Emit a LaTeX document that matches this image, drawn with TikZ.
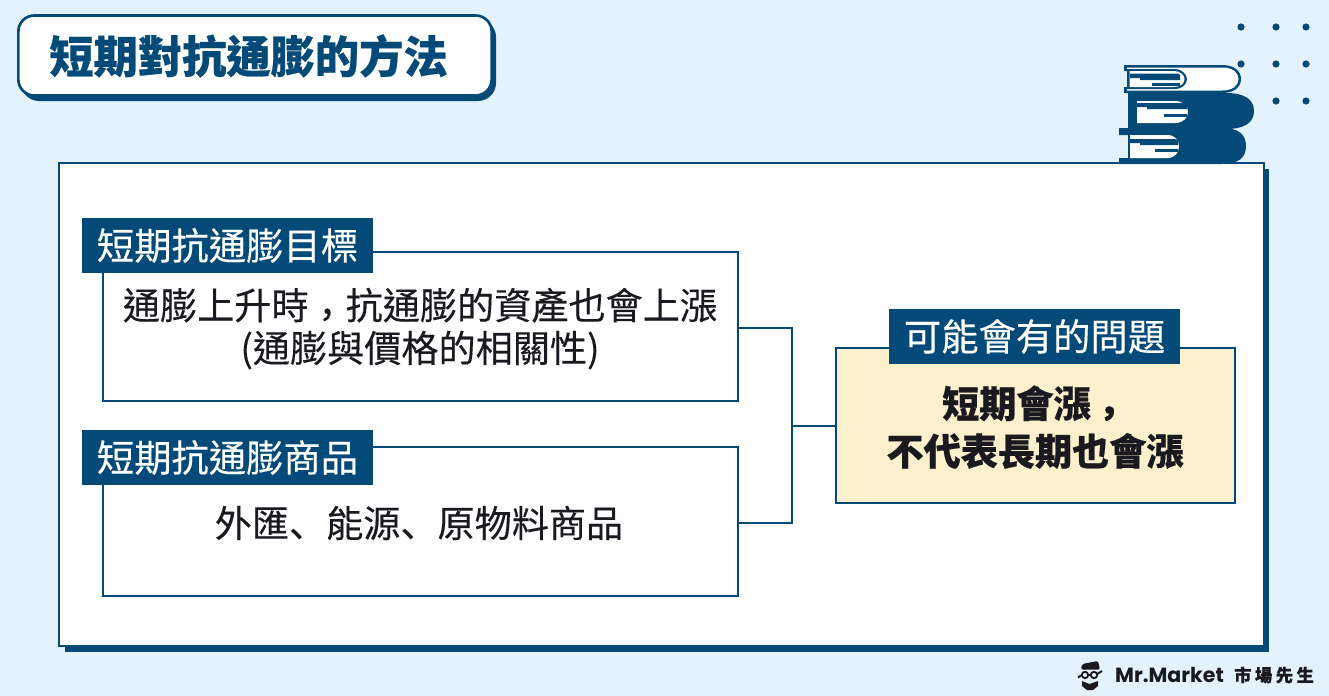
\documentclass[tikz,border=0pt]{standalone}
\usepackage{fontspec}
\setmainfont[BoldFeatures={FakeBold=0.5}]{Noto Sans CJK TC}
\newfontfamily\midfont[FakeBold=0.25]{Noto Sans CJK TC}
\newfontfamily\scfont[FakeBold=0.25]{Noto Sans CJK SC}
\newfontfamily\logofont{Poppins}
\newcommand{\lowcomma}{\raisebox{-0.24em}{，}}
\newcommand{\lowdun}{{\scfont 、}}
\definecolor{wwzzff}{rgb}{0.89,0.949,0.992}
\definecolor{qqwwbb}{rgb}{0.016,0.29,0.475}
\definecolor{ffeecc}{rgb}{0.992,0.941,0.804}
\definecolor{ttttzz}{rgb}{0.1,0.1,0.12}
\tikzset{
	panelbox/.style={draw=qqwwbb,fill=white,line width=1.5pt,inner sep=0pt},
	itembox/.style={panelbox,line width=1.2pt,minimum width=476pt,minimum height=111.5pt},
	tagbox/.style={fill=qqwwbb,text=white,inner sep=0pt,minimum width=218.25pt,minimum height=41.25pt,font=\fontsize{28}{32}\midfont},
	itemtext/.style={text=ttttzz,inner sep=0pt,font=\fontsize{27.85}{31}\midfont},
	strongtext/.style={text=ttttzz,inner sep=0pt,font=\fontsize{27.85}{31}\selectfont\bfseries},
	joinline/.style={draw=qqwwbb,line width=1.2pt},
	bookdark/.style={fill=qqwwbb,draw=none},
	bookpage/.style={fill=white,draw=none}
}
\begin{document}
\begin{tikzpicture}[line cap=butt,line join=miter,x=0.75pt,y=-0.75pt]
	\fill[wwzzff] (0,0) rectangle (1329,696);
	\useasboundingbox (0,0) rectangle (1329,696);
	\foreach \x in {1241,1276,1306}
		\foreach \y in {27,64,101}
			\fill[qqwwbb] (\x,\y) circle (3.6);
	\fill[qqwwbb,rounded corners=13.5pt] (21,19) rectangle (496,101);
	\node[panelbox,rounded corners=12pt,line width=2pt,minimum width=355pt,minimum height=60pt] (titlebox) at (255,55.5) {};
	\node[text=qqwwbb,inner sep=0pt,font=\fontsize{33.2}{36}\selectfont\bfseries] (titletext) at (248.5,56) {短期對抗通膨的方法};
	\fill[qqwwbb] (65,169) rectangle (1269,652);
	\node[panelbox,minimum width=903.5pt,minimum height=362pt] (mainbox) at (661.5,404.5) {};
	\node[itembox] (boxa) at (420.5,326.5) {};
	\node[itembox] (boxb) at (420.5,521.5) {};
	\node[panelbox,fill=ffeecc,line width=1.2pt,minimum width=299pt,minimum height=116pt] (result) at (1035.5,425.5) {};
	\coordinate (joina) at (792,328);
	\coordinate (joinb) at (792,523);
	\coordinate (joinc) at (792,426);
	\draw[joinline] (joina -| boxa.east) -- (joina) -- (joinb) -- (joinb -| boxb.east);
	\draw[joinline] (joinc) -- (joinc -| result.west);
	\node[tagbox] (taga) at (227.5,245.5) {短期抗通膨目標};
	\node[tagbox] (tagb) at (227.5,457.5) {短期抗通膨商品};
	\node[tagbox] (tagc) at (1034.5,336.5) {可能會有的問題};
	\node[itemtext] (texta) at (420,308) {通膨上升時\lowcomma 抗通膨的資產也會上漲};
	\node[itemtext] (textb) at (420,350) {(通膨與價格的相關性)};
	\node[itemtext] (textc) at (419,523) {外匯\lowdun 能源\lowdun 原物料商品};
	\node[strongtext] (textd) at (1035,406) {短期會漲\lowcomma};
	\node[strongtext] (texte) at (1035,451) {不代表長期也會漲};
	\fill[qqwwbb] (1124,65) -- (1222,65) .. controls (1234,65) and (1241,71) .. (1241,79) .. controls (1241,87) and (1234,93) .. (1222,93) -- (1124,93) -- (1124,87) -- (1128,87) -- (1128,71) -- (1124,71) -- cycle;
	\fill[bookpage] (1127,67.5) -- (1222,67.5) .. controls (1232,67.5) and (1238.5,72) .. (1238.5,79) .. controls (1238.5,86) and (1232,90.5) .. (1222,90.5) -- (1127,90.5) -- (1127,89) -- (1175,89) .. controls (1181,89) and (1186,85) .. (1186,79) .. controls (1186,74) and (1181,69) .. (1175,69) -- (1127,69) -- cycle;
	\fill[bookdark] (1127,69) -- (1175,69) .. controls (1181,69) and (1187,74) .. (1187,79) .. controls (1187,85) and (1181,89) .. (1175,89) -- (1127,89) -- cycle;
	\fill[bookpage] (1129.5,71) -- (1174,71) .. controls (1180,71) and (1184.5,75) .. (1184.5,79) .. controls (1184.5,84) and (1180,87) .. (1174,87) -- (1129.5,87) -- cycle;
	\fill[bookdark] (1130,73.5) -- (1178,73.5) -- (1180,75) -- (1180,80) -- (1140,80) -- (1140,78) -- (1130,78) -- cycle;
	\fill[bookdark] (1152,83) rectangle (1180,86);
	\fill[bookdark] (1128,93) -- (1226,93) .. controls (1244,93) and (1254,99) .. (1254,111) .. controls (1254,123) and (1244,129) .. (1226,129) -- (1128,129) -- cycle;
	\fill[bookpage] (1137,101) -- (1175,101) .. controls (1183,101) and (1188,106) .. (1188,112) .. controls (1188,118) and (1183,123) .. (1175,123) -- (1137,123) -- cycle;
	\fill[bookdark] (1137,103) -- (1185,103) -- (1187,105) -- (1187,109) -- (1147,109) -- (1147,107) -- (1137,107) -- cycle;
	\fill[bookdark] (1164,114) rectangle (1187,117);
	\fill[bookdark] (1119,128) -- (1222,128) .. controls (1238,128) and (1246,134) .. (1246,146) .. controls (1246,158) and (1238,164) .. (1222,164) -- (1119,164) -- (1119,158) -- (1128,158) -- (1128,135) -- (1119,135) -- cycle;
	\fill[bookpage] (1130,135) -- (1167,135) .. controls (1175,135) and (1179,140) .. (1179,146) .. controls (1179,153) and (1175,158) .. (1167,158) -- (1130,158) -- cycle;
	\fill[bookdark] (1130,139) -- (1176,139) -- (1178,141) -- (1178,145) -- (1140,145) -- (1140,143) -- (1130,143) -- cycle;
	\fill[bookdark] (1155,149) rectangle (1178,152);
	\fill[ttttzz,rounded corners=1.5pt] (1082,664) -- (1098,661) -- (1100,669.5) -- (1081,669.5) -- cycle;
	\draw[ttttzz,line width=1.4pt] (1085,675) circle (3.2) (1094,675) circle (3.2) (1088.2,675) -- (1090.8,675) (1081.8,675) -- (1078,677.5) (1097.2,674) -- (1102,671);
	\fill[ttttzz] (1082,681) -- (1089.5,684) -- (1098,681) -- (1098,686) -- (1093,690) -- (1087,690) -- (1082,686) -- cycle;
	\node[text=ttttzz,inner sep=0pt,font=\fontsize{15.4}{18}\logofont\bfseries] (logotext) at (1169.5,675) {Mr.Market};
	\node[text=ttttzz,inner sep=0pt,font=\fontsize{13}{16}\selectfont\bfseries\addfontfeature{LetterSpace=20}] (logocjk) at (1274,675) {市場先生};
\end{tikzpicture}
\end{document}
